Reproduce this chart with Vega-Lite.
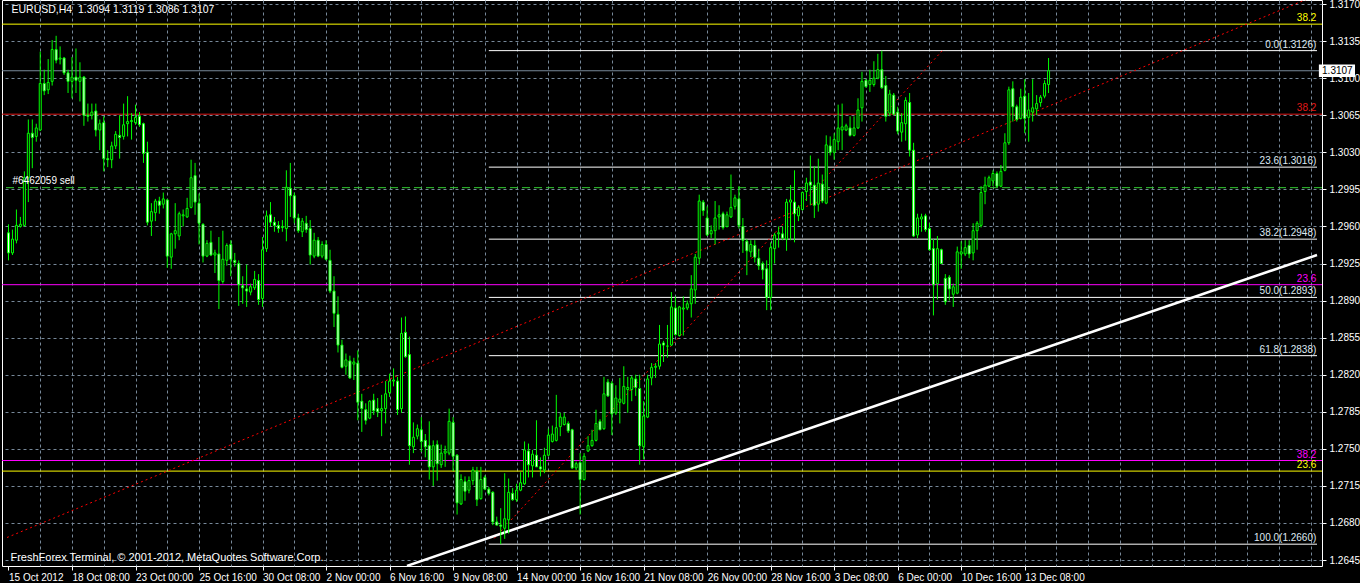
{
"$schema":"https://vega.github.io/schema/vega-lite/v6.json",
"width":1320,"height":566,
"autosize":{"type":"none"},
"padding":{"left":2,"top":0,"right":38,"bottom":17},
"background":"#000000",
"config":{"view":{"stroke":"#ffffff","strokeWidth":1,"fill":"#000000"},"font":"Liberation Sans","axis":{"labelOverlap":false,"labelFlush":false,"labelBound":false}},
"resolve":{"axis":{"x":"independent","y":"independent"}},
"datasets":{
"candles":[
{"bar":0,"open":1.2954,"high":1.2962,"low":1.2928,"close":1.2935},
{"bar":1,"open":1.2935,"high":1.2957,"low":1.2933,"close":1.2948},
{"bar":2,"open":1.2947,"high":1.2976,"low":1.2944,"close":1.2961},
{"bar":3,"open":1.2960,"high":1.2969,"low":1.2959,"close":1.2962},
{"bar":4,"open":1.2961,"high":1.3012,"low":1.2960,"close":1.3006},
{"bar":5,"open":1.3006,"high":1.3061,"low":1.2983,"close":1.3048},
{"bar":6,"open":1.3048,"high":1.3061,"low":1.3015,"close":1.3044},
{"bar":7,"open":1.3045,"high":1.3057,"low":1.3040,"close":1.3053},
{"bar":8,"open":1.3051,"high":1.3125,"low":1.3050,"close":1.3095},
{"bar":9,"open":1.3095,"high":1.3108,"low":1.3084,"close":1.3088},
{"bar":10,"open":1.3089,"high":1.3118,"low":1.3085,"close":1.3096},
{"bar":11,"open":1.3097,"high":1.3136,"low":1.3093,"close":1.3127},
{"bar":12,"open":1.3127,"high":1.3140,"low":1.3114,"close":1.3117},
{"bar":13,"open":1.3118,"high":1.3130,"low":1.3113,"close":1.3119},
{"bar":14,"open":1.3119,"high":1.3120,"low":1.3103,"close":1.3105},
{"bar":15,"open":1.3105,"high":1.3108,"low":1.3086,"close":1.3097},
{"bar":16,"open":1.3097,"high":1.3120,"low":1.3081,"close":1.3101},
{"bar":17,"open":1.3101,"high":1.3128,"low":1.3086,"close":1.3098},
{"bar":18,"open":1.3097,"high":1.3115,"low":1.3078,"close":1.3101},
{"bar":19,"open":1.3101,"high":1.3102,"low":1.3055,"close":1.3065},
{"bar":20,"open":1.3065,"high":1.3076,"low":1.3059,"close":1.3064},
{"bar":21,"open":1.3065,"high":1.3076,"low":1.3061,"close":1.3068},
{"bar":22,"open":1.3069,"high":1.3076,"low":1.3045,"close":1.3051},
{"bar":23,"open":1.3051,"high":1.3061,"low":1.3032,"close":1.3057},
{"bar":24,"open":1.3058,"high":1.3064,"low":1.3012,"close":1.3024},
{"bar":25,"open":1.3024,"high":1.3032,"low":1.3016,"close":1.3023},
{"bar":26,"open":1.3023,"high":1.3040,"low":1.3015,"close":1.3036},
{"bar":27,"open":1.3036,"high":1.3050,"low":1.3033,"close":1.3047},
{"bar":28,"open":1.3046,"high":1.3065,"low":1.3024,"close":1.3044},
{"bar":29,"open":1.3045,"high":1.3076,"low":1.3042,"close":1.3056},
{"bar":30,"open":1.3057,"high":1.3083,"low":1.3045,"close":1.3059},
{"bar":31,"open":1.3059,"high":1.3067,"low":1.3042,"close":1.3060},
{"bar":32,"open":1.3058,"high":1.3075,"low":1.3056,"close":1.3063},
{"bar":33,"open":1.3064,"high":1.3068,"low":1.3054,"close":1.3056},
{"bar":34,"open":1.3057,"high":1.3058,"low":1.3020,"close":1.3029},
{"bar":35,"open":1.3030,"high":1.3040,"low":1.2961,"close":1.2964},
{"bar":36,"open":1.2965,"high":1.2982,"low":1.2951,"close":1.2974},
{"bar":37,"open":1.2973,"high":1.2986,"low":1.2965,"close":1.2984},
{"bar":38,"open":1.2984,"high":1.2988,"low":1.2972,"close":1.2980},
{"bar":39,"open":1.2981,"high":1.2992,"low":1.2977,"close":1.2986},
{"bar":40,"open":1.2985,"high":1.2986,"low":1.2921,"close":1.2932},
{"bar":41,"open":1.2931,"high":1.2954,"low":1.2920,"close":1.2953},
{"bar":42,"open":1.2953,"high":1.2982,"low":1.2939,"close":1.2956},
{"bar":43,"open":1.2951,"high":1.2974,"low":1.2947,"close":1.2972},
{"bar":44,"open":1.2970,"high":1.2976,"low":1.2960,"close":1.2971},
{"bar":45,"open":1.2969,"high":1.2987,"low":1.2968,"close":1.2977},
{"bar":46,"open":1.2978,"high":1.3023,"low":1.2977,"close":1.3006},
{"bar":47,"open":1.3008,"high":1.3020,"low":1.2971,"close":1.2983},
{"bar":48,"open":1.2982,"high":1.2991,"low":1.2943,"close":1.2963},
{"bar":49,"open":1.2962,"high":1.2963,"low":1.2926,"close":1.2932},
{"bar":50,"open":1.2932,"high":1.2947,"low":1.2931,"close":1.2944},
{"bar":51,"open":1.2945,"high":1.2956,"low":1.2932,"close":1.2933},
{"bar":52,"open":1.2933,"high":1.2938,"low":1.2916,"close":1.2935},
{"bar":53,"open":1.2934,"high":1.2950,"low":1.2882,"close":1.2909},
{"bar":54,"open":1.2908,"high":1.2956,"low":1.2906,"close":1.2929},
{"bar":55,"open":1.2928,"high":1.2944,"low":1.2923,"close":1.2942},
{"bar":56,"open":1.2943,"high":1.2947,"low":1.2913,"close":1.2929},
{"bar":57,"open":1.2928,"high":1.2935,"low":1.2922,"close":1.2926},
{"bar":58,"open":1.2925,"high":1.2928,"low":1.2885,"close":1.2905},
{"bar":59,"open":1.2904,"high":1.2913,"low":1.2887,"close":1.2902},
{"bar":60,"open":1.2901,"high":1.2924,"low":1.2884,"close":1.2899},
{"bar":61,"open":1.2898,"high":1.2906,"low":1.2895,"close":1.2903},
{"bar":62,"open":1.2902,"high":1.2918,"low":1.2900,"close":1.2910},
{"bar":63,"open":1.2909,"high":1.2915,"low":1.2886,"close":1.2891},
{"bar":64,"open":1.2892,"high":1.2950,"low":1.2884,"close":1.2938},
{"bar":65,"open":1.2939,"high":1.2975,"low":1.2936,"close":1.2970},
{"bar":66,"open":1.2971,"high":1.2983,"low":1.2960,"close":1.2964},
{"bar":67,"open":1.2964,"high":1.2969,"low":1.2955,"close":1.2961},
{"bar":68,"open":1.2961,"high":1.2965,"low":1.2954,"close":1.2958},
{"bar":69,"open":1.2959,"high":1.2966,"low":1.2955,"close":1.2960},
{"bar":70,"open":1.2958,"high":1.3013,"low":1.2946,"close":1.2997},
{"bar":71,"open":1.2996,"high":1.3020,"low":1.2969,"close":1.2989},
{"bar":72,"open":1.2989,"high":1.2992,"low":1.2963,"close":1.2968},
{"bar":73,"open":1.2968,"high":1.2972,"low":1.2954,"close":1.2956},
{"bar":74,"open":1.2955,"high":1.2968,"low":1.2950,"close":1.2965},
{"bar":75,"open":1.2963,"high":1.2970,"low":1.2954,"close":1.2957},
{"bar":76,"open":1.2958,"high":1.2966,"low":1.2924,"close":1.2933},
{"bar":77,"open":1.2932,"high":1.2954,"low":1.2930,"close":1.2947},
{"bar":78,"open":1.2947,"high":1.2950,"low":1.2931,"close":1.2932},
{"bar":79,"open":1.2932,"high":1.2946,"low":1.2930,"close":1.2943},
{"bar":80,"open":1.2943,"high":1.2947,"low":1.2928,"close":1.2929},
{"bar":81,"open":1.2928,"high":1.2938,"low":1.2897,"close":1.2899},
{"bar":82,"open":1.2899,"high":1.2913,"low":1.2865,"close":1.2878},
{"bar":83,"open":1.2877,"high":1.2894,"low":1.2841,"close":1.2848},
{"bar":84,"open":1.2848,"high":1.2853,"low":1.2826,"close":1.2827},
{"bar":85,"open":1.2828,"high":1.2840,"low":1.2820,"close":1.2834},
{"bar":86,"open":1.2833,"high":1.2838,"low":1.2816,"close":1.2817},
{"bar":87,"open":1.2830,"high":1.2836,"low":1.2815,"close":1.2832},
{"bar":88,"open":1.2831,"high":1.2843,"low":1.2777,"close":1.2794},
{"bar":89,"open":1.2795,"high":1.2802,"low":1.2766,"close":1.2788},
{"bar":90,"open":1.2787,"high":1.2793,"low":1.2773,"close":1.2777},
{"bar":91,"open":1.2779,"high":1.2796,"low":1.2778,"close":1.2795},
{"bar":92,"open":1.2796,"high":1.2802,"low":1.2782,"close":1.2786},
{"bar":93,"open":1.2788,"high":1.2798,"low":1.2780,"close":1.2785},
{"bar":94,"open":1.2786,"high":1.2801,"low":1.2762,"close":1.2788},
{"bar":95,"open":1.2788,"high":1.2814,"low":1.2774,"close":1.2802},
{"bar":96,"open":1.2803,"high":1.2821,"low":1.2799,"close":1.2814},
{"bar":97,"open":1.2814,"high":1.2826,"low":1.2809,"close":1.2815},
{"bar":98,"open":1.2814,"high":1.2818,"low":1.2782,"close":1.2787},
{"bar":99,"open":1.2788,"high":1.2874,"low":1.2784,"close":1.2859},
{"bar":100,"open":1.2860,"high":1.2875,"low":1.2836,"close":1.2837},
{"bar":101,"open":1.2839,"high":1.2856,"low":1.2735,"close":1.2753},
{"bar":102,"open":1.2752,"high":1.2775,"low":1.2746,"close":1.2761},
{"bar":103,"open":1.2762,"high":1.2773,"low":1.2759,"close":1.2769},
{"bar":104,"open":1.2768,"high":1.2780,"low":1.2747,"close":1.2757},
{"bar":105,"open":1.2758,"high":1.2764,"low":1.2742,"close":1.2752},
{"bar":106,"open":1.2753,"high":1.2776,"low":1.2721,"close":1.2733},
{"bar":107,"open":1.2733,"high":1.2758,"low":1.2715,"close":1.2753},
{"bar":108,"open":1.2754,"high":1.2758,"low":1.2720,"close":1.2736},
{"bar":109,"open":1.2735,"high":1.2754,"low":1.2732,"close":1.2746},
{"bar":110,"open":1.2746,"high":1.2753,"low":1.2733,"close":1.2748},
{"bar":111,"open":1.2746,"high":1.2788,"low":1.2744,"close":1.2776},
{"bar":112,"open":1.2775,"high":1.2780,"low":1.2729,"close":1.2743},
{"bar":113,"open":1.2744,"high":1.2745,"low":1.2688,"close":1.2699},
{"bar":114,"open":1.2698,"high":1.2726,"low":1.2697,"close":1.2721},
{"bar":115,"open":1.2719,"high":1.2724,"low":1.2701,"close":1.2710},
{"bar":116,"open":1.2711,"high":1.2724,"low":1.2708,"close":1.2720},
{"bar":117,"open":1.2720,"high":1.2733,"low":1.2716,"close":1.2730},
{"bar":118,"open":1.2729,"high":1.2733,"low":1.2696,"close":1.2702},
{"bar":119,"open":1.2703,"high":1.2733,"low":1.2702,"close":1.2721},
{"bar":120,"open":1.2723,"high":1.2725,"low":1.2711,"close":1.2712},
{"bar":121,"open":1.2712,"high":1.2714,"low":1.2706,"close":1.2708},
{"bar":122,"open":1.2709,"high":1.2710,"low":1.2678,"close":1.2681},
{"bar":123,"open":1.2681,"high":1.2686,"low":1.2678,"close":1.2678},
{"bar":124,"open":1.2678,"high":1.2694,"low":1.2660,"close":1.2677},
{"bar":125,"open":1.2675,"high":1.2727,"low":1.2665,"close":1.2684},
{"bar":126,"open":1.2683,"high":1.2722,"low":1.2670,"close":1.2709},
{"bar":127,"open":1.2708,"high":1.2713,"low":1.2701,"close":1.2702},
{"bar":128,"open":1.2702,"high":1.2717,"low":1.2700,"close":1.2711},
{"bar":129,"open":1.2711,"high":1.2728,"low":1.2710,"close":1.2718},
{"bar":130,"open":1.2717,"high":1.2757,"low":1.2716,"close":1.2749},
{"bar":131,"open":1.2748,"high":1.2755,"low":1.2723,"close":1.2735},
{"bar":132,"open":1.2734,"high":1.2749,"low":1.2723,"close":1.2745},
{"bar":133,"open":1.2744,"high":1.2777,"low":1.2733,"close":1.2733},
{"bar":134,"open":1.2733,"high":1.2742,"low":1.2724,"close":1.2731},
{"bar":135,"open":1.2730,"high":1.2751,"low":1.2727,"close":1.2744},
{"bar":136,"open":1.2744,"high":1.2769,"low":1.2743,"close":1.2763},
{"bar":137,"open":1.2757,"high":1.2772,"low":1.2756,"close":1.2764},
{"bar":138,"open":1.2758,"high":1.2801,"low":1.2757,"close":1.2770},
{"bar":139,"open":1.2771,"high":1.2784,"low":1.2762,"close":1.2780},
{"bar":140,"open":1.2773,"high":1.2784,"low":1.2772,"close":1.2780},
{"bar":141,"open":1.2774,"high":1.2776,"low":1.2765,"close":1.2767},
{"bar":142,"open":1.2768,"high":1.2769,"low":1.2731,"close":1.2732},
{"bar":143,"open":1.2732,"high":1.2738,"low":1.2730,"close":1.2736},
{"bar":144,"open":1.2737,"high":1.2746,"low":1.2688,"close":1.2721},
{"bar":145,"open":1.2721,"high":1.2746,"low":1.2720,"close":1.2743},
{"bar":146,"open":1.2748,"high":1.2762,"low":1.2747,"close":1.2753},
{"bar":147,"open":1.2753,"high":1.2768,"low":1.2752,"close":1.2758},
{"bar":148,"open":1.2758,"high":1.2787,"low":1.2757,"close":1.2774},
{"bar":149,"open":1.2776,"high":1.2778,"low":1.2768,"close":1.2768},
{"bar":150,"open":1.2769,"high":1.2818,"low":1.2768,"close":1.2802},
{"bar":151,"open":1.2813,"high":1.2816,"low":1.2799,"close":1.2800},
{"bar":152,"open":1.2812,"high":1.2814,"low":1.2763,"close":1.2783},
{"bar":153,"open":1.2784,"high":1.2810,"low":1.2782,"close":1.2798},
{"bar":154,"open":1.2794,"high":1.2817,"low":1.2774,"close":1.2797},
{"bar":155,"open":1.2793,"high":1.2828,"low":1.2792,"close":1.2809},
{"bar":156,"open":1.2806,"high":1.2818,"low":1.2784,"close":1.2808},
{"bar":157,"open":1.2806,"high":1.2819,"low":1.2795,"close":1.2817},
{"bar":158,"open":1.2816,"high":1.2820,"low":1.2800,"close":1.2808},
{"bar":159,"open":1.2807,"high":1.2820,"low":1.2735,"close":1.2753},
{"bar":160,"open":1.2752,"high":1.2795,"low":1.2740,"close":1.2781},
{"bar":161,"open":1.2780,"high":1.2820,"low":1.2779,"close":1.2816},
{"bar":162,"open":1.2817,"high":1.2831,"low":1.2810,"close":1.2827},
{"bar":163,"open":1.2827,"high":1.2831,"low":1.2817,"close":1.2828},
{"bar":164,"open":1.2828,"high":1.2867,"low":1.2825,"close":1.2849},
{"bar":165,"open":1.2850,"high":1.2852,"low":1.2832,"close":1.2848},
{"bar":166,"open":1.2847,"high":1.2867,"low":1.2836,"close":1.2847},
{"bar":167,"open":1.2848,"high":1.2898,"low":1.2847,"close":1.2884},
{"bar":168,"open":1.2883,"high":1.2894,"low":1.2857,"close":1.2858},
{"bar":169,"open":1.2857,"high":1.2885,"low":1.2856,"close":1.2884},
{"bar":170,"open":1.2882,"high":1.2894,"low":1.2857,"close":1.2883},
{"bar":171,"open":1.2883,"high":1.2890,"low":1.2881,"close":1.2887},
{"bar":172,"open":1.2887,"high":1.2914,"low":1.2874,"close":1.2901},
{"bar":173,"open":1.2900,"high":1.2934,"low":1.2887,"close":1.2931},
{"bar":174,"open":1.2930,"high":1.2990,"low":1.2924,"close":1.2984},
{"bar":175,"open":1.2983,"high":1.2985,"low":1.2970,"close":1.2975},
{"bar":176,"open":1.2968,"high":1.2979,"low":1.2951,"close":1.2952},
{"bar":177,"open":1.2953,"high":1.2961,"low":1.2949,"close":1.2956},
{"bar":178,"open":1.2956,"high":1.2984,"low":1.2943,"close":1.2968},
{"bar":179,"open":1.2969,"high":1.2980,"low":1.2957,"close":1.2971},
{"bar":180,"open":1.2972,"high":1.2974,"low":1.2957,"close":1.2959},
{"bar":181,"open":1.2960,"high":1.2974,"low":1.2959,"close":1.2971},
{"bar":182,"open":1.2969,"high":1.3009,"low":1.2968,"close":1.2978},
{"bar":183,"open":1.2979,"high":1.2990,"low":1.2976,"close":1.2987},
{"bar":184,"open":1.2986,"high":1.2998,"low":1.2958,"close":1.2961},
{"bar":185,"open":1.2960,"high":1.2968,"low":1.2935,"close":1.2947},
{"bar":186,"open":1.2946,"high":1.2948,"low":1.2914,"close":1.2937},
{"bar":187,"open":1.2936,"high":1.2947,"low":1.2931,"close":1.2943},
{"bar":188,"open":1.2942,"high":1.2947,"low":1.2926,"close":1.2931},
{"bar":189,"open":1.2930,"high":1.2939,"low":1.2919,"close":1.2923},
{"bar":190,"open":1.2925,"high":1.2927,"low":1.2910,"close":1.2919},
{"bar":191,"open":1.2920,"high":1.2928,"low":1.2881,"close":1.2893},
{"bar":192,"open":1.2893,"high":1.2945,"low":1.2881,"close":1.2940},
{"bar":193,"open":1.2939,"high":1.2954,"low":1.2925,"close":1.2952},
{"bar":194,"open":1.2953,"high":1.2960,"low":1.2940,"close":1.2954},
{"bar":195,"open":1.2953,"high":1.2960,"low":1.2947,"close":1.2949},
{"bar":196,"open":1.2948,"high":1.2986,"low":1.2937,"close":1.2983},
{"bar":197,"open":1.2983,"high":1.2999,"low":1.2947,"close":1.2985},
{"bar":198,"open":1.2983,"high":1.3013,"low":1.2945,"close":1.2972},
{"bar":199,"open":1.2970,"high":1.2980,"low":1.2965,"close":1.2978},
{"bar":200,"open":1.2976,"high":1.2993,"low":1.2975,"close":1.2992},
{"bar":201,"open":1.2993,"high":1.3006,"low":1.2984,"close":1.3001},
{"bar":202,"open":1.3002,"high":1.3027,"low":1.2980,"close":1.2999},
{"bar":203,"open":1.2999,"high":1.3017,"low":1.2968,"close":1.2980},
{"bar":204,"open":1.2981,"high":1.3024,"low":1.2974,"close":1.3001},
{"bar":205,"open":1.3000,"high":1.3009,"low":1.2982,"close":1.2984},
{"bar":206,"open":1.2982,"high":1.3046,"low":1.2981,"close":1.3037},
{"bar":207,"open":1.3036,"high":1.3045,"low":1.3027,"close":1.3030},
{"bar":208,"open":1.3030,"high":1.3048,"low":1.3023,"close":1.3042},
{"bar":209,"open":1.3040,"high":1.3075,"low":1.3032,"close":1.3053},
{"bar":210,"open":1.3051,"high":1.3076,"low":1.3032,"close":1.3054},
{"bar":211,"open":1.3051,"high":1.3057,"low":1.3050,"close":1.3055},
{"bar":212,"open":1.3053,"high":1.3064,"low":1.3045,"close":1.3046},
{"bar":213,"open":1.3046,"high":1.3064,"low":1.3045,"close":1.3053},
{"bar":214,"open":1.3053,"high":1.3081,"low":1.3052,"close":1.3070},
{"bar":215,"open":1.3072,"high":1.3106,"low":1.3059,"close":1.3097},
{"bar":216,"open":1.3098,"high":1.3099,"low":1.3091,"close":1.3092},
{"bar":217,"open":1.3094,"high":1.3108,"low":1.3087,"close":1.3098},
{"bar":218,"open":1.3094,"high":1.3116,"low":1.3092,"close":1.3100},
{"bar":219,"open":1.3100,"high":1.3123,"low":1.3099,"close":1.3108},
{"bar":220,"open":1.3108,"high":1.3126,"low":1.3090,"close":1.3091},
{"bar":221,"open":1.3093,"high":1.3102,"low":1.3059,"close":1.3064},
{"bar":222,"open":1.3067,"high":1.3089,"low":1.3064,"close":1.3085},
{"bar":223,"open":1.3084,"high":1.3086,"low":1.3065,"close":1.3066},
{"bar":224,"open":1.3068,"high":1.3073,"low":1.3047,"close":1.3050},
{"bar":225,"open":1.3049,"high":1.3067,"low":1.3040,"close":1.3058},
{"bar":226,"open":1.3057,"high":1.3082,"low":1.3041,"close":1.3079},
{"bar":227,"open":1.3077,"high":1.3086,"low":1.3026,"close":1.3032},
{"bar":228,"open":1.3032,"high":1.3039,"low":1.2950,"close":1.2951},
{"bar":229,"open":1.2952,"high":1.2972,"low":1.2949,"close":1.2968},
{"bar":230,"open":1.2967,"high":1.2972,"low":1.2955,"close":1.2969},
{"bar":231,"open":1.2970,"high":1.2972,"low":1.2955,"close":1.2957},
{"bar":232,"open":1.2958,"high":1.2963,"low":1.2937,"close":1.2938},
{"bar":233,"open":1.2939,"high":1.2948,"low":1.2876,"close":1.2905},
{"bar":234,"open":1.2906,"high":1.2951,"low":1.2891,"close":1.2939},
{"bar":235,"open":1.2938,"high":1.2939,"low":1.2925,"close":1.2925},
{"bar":236,"open":1.2911,"high":1.2915,"low":1.2886,"close":1.2889},
{"bar":237,"open":1.2912,"high":1.2914,"low":1.2890,"close":1.2901},
{"bar":238,"open":1.2896,"high":1.2906,"low":1.2884,"close":1.2903},
{"bar":239,"open":1.2897,"high":1.2941,"low":1.2896,"close":1.2936},
{"bar":240,"open":1.2934,"high":1.2946,"low":1.2920,"close":1.2936},
{"bar":241,"open":1.2934,"high":1.2947,"low":1.2932,"close":1.2940},
{"bar":242,"open":1.2942,"high":1.2947,"low":1.2930,"close":1.2934},
{"bar":243,"open":1.2935,"high":1.2963,"low":1.2928,"close":1.2956},
{"bar":244,"open":1.2956,"high":1.2965,"low":1.2938,"close":1.2963},
{"bar":245,"open":1.2961,"high":1.2998,"low":1.2959,"close":1.2992},
{"bar":246,"open":1.2993,"high":1.3007,"low":1.2981,"close":1.2999},
{"bar":247,"open":1.2998,"high":1.3008,"low":1.2997,"close":1.3006},
{"bar":248,"open":1.3003,"high":1.3013,"low":1.2998,"close":1.3010},
{"bar":249,"open":1.3010,"high":1.3012,"low":1.2997,"close":1.2998},
{"bar":250,"open":1.2998,"high":1.3018,"low":1.2997,"close":1.3012},
{"bar":251,"open":1.3013,"high":1.3048,"low":1.3012,"close":1.3039},
{"bar":252,"open":1.3039,"high":1.3092,"low":1.3037,"close":1.3089},
{"bar":253,"open":1.3090,"high":1.3097,"low":1.3059,"close":1.3073},
{"bar":254,"open":1.3073,"high":1.3075,"low":1.3059,"close":1.3061},
{"bar":255,"open":1.3062,"high":1.3090,"low":1.3061,"close":1.3082},
{"bar":256,"open":1.3083,"high":1.3099,"low":1.3048,"close":1.3062},
{"bar":257,"open":1.3063,"high":1.3086,"low":1.3040,"close":1.3070},
{"bar":258,"open":1.3068,"high":1.3099,"low":1.3059,"close":1.3072},
{"bar":259,"open":1.3071,"high":1.3084,"low":1.3065,"close":1.3076},
{"bar":260,"open":1.3077,"high":1.3084,"low":1.3073,"close":1.3082},
{"bar":261,"open":1.3083,"high":1.3098,"low":1.3081,"close":1.3095},
{"bar":262,"open":1.3094,"high":1.3119,"low":1.3086,"close":1.3107}
],
"fibo":[
{"level":"0.0","price":1.3126,"label":"0.0(1.3126)"},
{"level":"23.6","price":1.3016,"label":"23.6(1.3016)"},
{"level":"38.2","price":1.2948,"label":"38.2(1.2948)"},
{"level":"50.0","price":1.2893,"label":"50.0(1.2893)"},
{"level":"61.8","price":1.2838,"label":"61.8(1.2838)"},
{"level":"100.0","price":1.2660,"label":"100.0(1.2660)"}
],
"levels":[
{"set":"A","level":"38.2","price":1.3151},
{"set":"A","level":"23.6","price":1.2729},
{"set":"B","level":"23.6","price":1.2905},
{"set":"B","level":"38.2","price":1.2739},
{"set":"C","level":"38.2","price":1.3066}
],
"dotted":[
{"line":"fan1","bar":-0.375,"price":1.26663},
{"line":"fan1","bar":329.625,"price":1.31785},
{"line":"fan2","bar":122.375,"price":1.26655},
{"line":"fan2","bar":235.375,"price":1.31265}
],
"trend":[
{"bar":100.375,"price":1.26395},
{"bar":329.625,"price":1.2933}
]
},
"layer":[
{
"data":{"name":"candles"},
"mark":{"type":"rule","color":"#00ff00","strokeWidth":1,"opacity":0},
"encoding":{
"x":{"field":"bar","type":"quantitative","title":null,
"scale":{"domain":[-0.375,329.625],"nice":false,"zero":false},
"axis":{"orient":"bottom","title":null,
"values":[0,8,16,24,32,40,48,56,64,72,80,88,96,104,112,120,128,136,144,152,160,168,176,184,192,200,208,216,224,232,240,248,256,264,272,280,288,296,304,312,320,328],
"grid":true,"gridColor":"#778899","gridDash":[3,3],"gridWidth":1,
"gridOpacity":{"condition":{"test":"datum.value === 0","value":0},"value":1},
"domain":false,"ticks":true,"tickSize":4,"tickColor":"#ffffff",
"tickOpacity":{"condition":{"test":"datum.value % 16 === 0 && datum.value <= 256","value":1},"value":0},
"labelExpr":"(datum.value % 16 === 0 && datum.value <= 256) ? ['15 Oct 2012','18 Oct 08:00','23 Oct 00:00','25 Oct 16:00','30 Oct 08:00','2 Nov 00:00','6 Nov 16:00','9 Nov 08:00','14 Nov 00:00','16 Nov 16:00','21 Nov 08:00','26 Nov 00:00','28 Nov 16:00','3 Dec 08:00','6 Dec 00:00','10 Dec 16:00','13 Dec 08:00'][round(datum.value/16)] : ''",
"labelAlign":"left","labelBaseline":"top","labelPadding":2,"labelColor":"#ffffff","labelFont":"Liberation Sans","labelFontSize":10,"labelOverlap":false,"labelFlush":false,"labelBound":false}},
"y":{"field":"low","type":"quantitative","title":null,
"scale":{"domain":[1.26394,1.31738],"nice":false,"zero":false},
"axis":{"orient":"right","title":null,
"values":[1.2645,1.268,1.2715,1.275,1.2785,1.282,1.2855,1.289,1.2925,1.296,1.2995,1.303,1.3065,1.31,1.3135,1.317],
"format":".4f","grid":true,"gridColor":"#778899","gridDash":[3,3],"gridWidth":1,
"domain":false,"ticks":true,"tickSize":4,"tickColor":"#ffffff",
"labelColor":"#ffffff","labelFont":"Liberation Sans","labelFontSize":10,"labelPadding":3,"labelBaseline":"middle","labelOverlap":false,"labelFlush":false,"labelBound":false}},
"y2":{"field":"high"}
}
},
{
"data":{"name":"levels"},
"mark":{"type":"rule","strokeWidth":1},
"encoding":{
"y":{"field":"price","type":"quantitative","axis":null},
"color":{"field":"set","type":"nominal","scale":{"domain":["A","B","C"],"range":["#ffff00","#ff00ff","#e01818"]},"legend":null}
}
},
{
"data":{"values":[{}]},
"mark":{"type":"rule","color":"#778899","strokeWidth":1},
"encoding":{"y":{"datum":1.3107,"axis":null}}
},
{
"data":{"values":[{}]},
"mark":{"type":"rule","color":"#32cd32","strokeWidth":1,"strokeDash":[8,4]},
"encoding":{"y":{"datum":1.29966,"axis":null}}
},
{
"data":{"name":"fibo"},
"mark":{"type":"rule","color":"#ffffff","strokeWidth":1},
"encoding":{
"x":{"datum":121,"axis":null},
"x2":{"datum":329.625},
"y":{"field":"price","type":"quantitative","axis":null}
}
},
{
"data":{"name":"dotted"},
"mark":{"type":"line","color":"#ff0000","strokeWidth":1,"strokeDash":[2,3],"clip":true},
"encoding":{
"x":{"field":"bar","type":"quantitative","axis":null},
"y":{"field":"price","type":"quantitative","axis":null},
"detail":{"field":"line","type":"nominal"}
}
},
{
"data":{"name":"trend"},
"mark":{"type":"line","color":"#ffffff","strokeWidth":2.5,"clip":true},
"encoding":{
"x":{"field":"bar","type":"quantitative","axis":null},
"y":{"field":"price","type":"quantitative","axis":null}
}
},
{
"data":{"name":"candles"},
"mark":{"type":"rule","color":"#00ff00","strokeWidth":1},
"encoding":{
"x":{"field":"bar","type":"quantitative","axis":null},
"y":{"field":"low","type":"quantitative","axis":null},
"y2":{"field":"high"}
}
},
{
"data":{"name":"candles"},
"mark":{"type":"bar","size":2,"stroke":"#00ff00","strokeWidth":1},
"encoding":{
"x":{"field":"bar","type":"quantitative","axis":null},
"y":{"field":"open","type":"quantitative","axis":null},
"y2":{"field":"close"},
"fill":{"condition":{"test":"datum.close > datum.open","value":"#000000"},"value":"#ffffff"}
}
},
{
"data":{"name":"fibo"},
"mark":{"type":"text","align":"right","baseline":"bottom","dy":-1,"color":"#dfe9f3","font":"Liberation Sans","fontSize":10},
"encoding":{
"x":{"datum":329.45,"axis":null},
"y":{"field":"price","type":"quantitative","axis":null},
"text":{"field":"label"}
}
},
{
"data":{"name":"levels"},
"mark":{"type":"text","align":"right","baseline":"bottom","dy":-1,"font":"Liberation Sans","fontSize":10},
"encoding":{
"x":{"datum":329.45,"axis":null},
"y":{"field":"price","type":"quantitative","axis":null},
"text":{"field":"level"},
"color":{"field":"set","type":"nominal","legend":null}
}
},
{
"data":{"values":[{}]},
"mark":{"type":"text","align":"left","baseline":"bottom","dy":-2,"color":"#ffffff","font":"Liberation Sans","fontSize":10},
"encoding":{"x":{"datum":1.0,"axis":null},"y":{"datum":1.29966,"axis":null},"text":{"value":"#6462059 sell"}}
},
{
"data":{"values":[{}]},
"mark":{"type":"text","align":"left","baseline":"middle","color":"#ffffff","font":"Liberation Sans","fontSize":10.5},
"encoding":{"x":{"datum":0.75,"axis":null},"y":{"datum":1.31644,"axis":null},"text":{"value":"EURUSD,H4\u00a0\u00a01.3094 1.3119 1.3086 1.3107"}}
},
{
"data":{"values":[{}]},
"mark":{"type":"text","align":"left","baseline":"middle","color":"#ffffff","font":"Liberation Sans","fontSize":11},
"encoding":{"x":{"datum":0.5,"axis":null},"y":{"datum":1.26469,"axis":null},"text":{"value":"FreshForex Terminal, © 2001-2012, MetaQuotes Software Corp."}}
},
{
"data":{"values":[{}]},
"mark":{"type":"rect","color":"#ffffff"},
"encoding":{"x":{"datum":330.1,"axis":null},"x2":{"datum":339.2},"y":{"datum":1.3113,"axis":null},"y2":{"datum":1.3101}}
},
{
"data":{"values":[{}]},
"mark":{"type":"text","align":"left","baseline":"middle","color":"#000000","font":"Liberation Sans","fontSize":10},
"encoding":{"x":{"datum":330.9,"axis":null},"y":{"datum":1.3107,"axis":null},"text":{"value":"1.3107"}}
}
]
}
